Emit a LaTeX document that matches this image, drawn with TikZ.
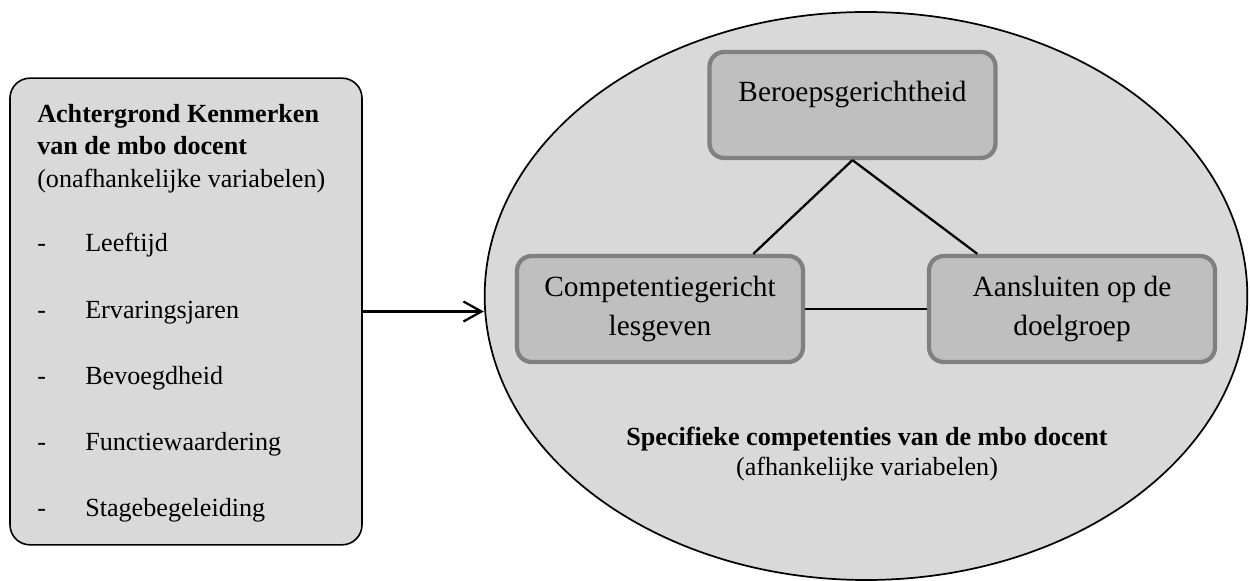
\documentclass[tikz,border=0pt]{standalone}
\usepackage{fontspec}
\setmainfont{Liberation Serif}
\usetikzlibrary{arrows.meta,shapes.geometric}

\definecolor{lichtgrijs}{HTML}{D9D9D9}
\definecolor{middengrijs}{HTML}{BFBFBF}
\definecolor{randgrijs}{HTML}{808080}

\tikzset{
  kader/.style={draw=randgrijs, line width=3.2pt, fill=middengrijs, rounded corners=11pt,
    minimum width=214.5pt, minimum height=79.5pt, align=center,
    font=\fontsize{22}{29.25}\selectfont},
  tekst/.style={anchor=base west, inner sep=0pt, font=\fontsize{19.6}{24}\selectfont},
  lijn/.style={line width=1.7pt},
}

\begin{document}
\begin{tikzpicture}[x=0.75pt,y=-0.75pt]
\useasboundingbox (0,0) rectangle (1250,581);

% linker kader
\node[draw, line width=1.2pt, fill=lichtgrijs, rounded corners=15pt,
  minimum width=264pt, minimum height=350pt] (achtergrond) at (186,311.5) {};

\node[tekst, font=\fontsize{19.6}{24}\selectfont\bfseries] (titel1) at (37,123) {Achtergrond Kenmerken};
\node[tekst, font=\fontsize{19.6}{24}\selectfont\bfseries] (titel2) at (37,155) {van de mbo docent};
\node[tekst] (titel3) at (37,188) {(onafhankelijke variabelen)};

\foreach \naam [count=\i from 0] in {Leeftijd,Ervaringsjaren,Bevoegdheid,Functiewaardering,Stagebegeleiding}{
  \node[tekst] (streep\i) at (37,{252+66*\i}) {-};
  \node[tekst] (item\i) at (85,{252+66*\i}) {\naam};
}

% ellips
\node[ellipse, draw, line width=1.3pt, fill=lichtgrijs,
  minimum width=572pt, minimum height=426pt] (ellips) at (866,296) {};

\node[kader, text depth=21pt] (beroep) at (852.5,105) {Beroepsgerichtheid};
\node[kader] (competent) at (660,309) {Competentiegericht\\lesgeven};
\node[kader] (aansluiten) at (1072,309) {Aansluiten op de\\doelgroep};

\draw[lijn] (beroep.south) -- ([xshift=70pt]competent.north);
\draw[lijn] (beroep.south) -- ([xshift=-71pt]aansluiten.north);
\draw[lijn] (competent.east) -- (aansluiten.west);

\node[anchor=base, inner sep=0pt, font=\fontsize{19.6}{24}\selectfont\bfseries] (onder1) at (867,445) {Specifieke competenties van de mbo docent};
\node[anchor=base, inner sep=0pt, font=\fontsize{19.6}{24}\selectfont] (onder2) at (867,475) {(afhankelijke variabelen)};

% pijl
\draw[lijn, -{Straight Barb[length=13.5pt,width=15pt]}] (achtergrond.east) -- (achtergrond.east -| ellips.west);

\end{tikzpicture}
\end{document}
